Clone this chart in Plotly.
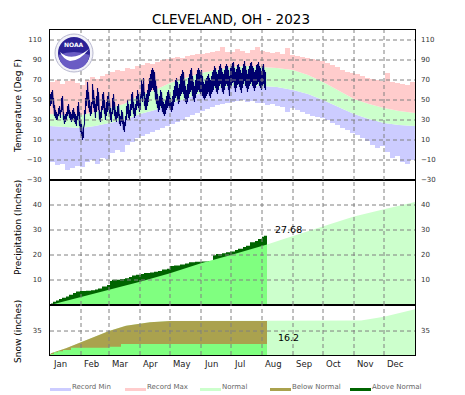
import plotly.graph_objects as go

# ---------------- data ----------------
title_text = "CLEVELAND, OH - 2023"
month_labels = ["Jan", "Feb", "Mar", "Apr", "May", "Jun", "Jul", "Aug", "Sep", "Oct", "Nov", "Dec"]
month_starts = [0, 31, 59, 90, 120, 151, 181, 212, 243, 273, 304, 334]

temp_ticks = [-30, -10, 10, 30, 50, 70, 90, 110]
precip_ticks = [10, 20, 30, 40]
snow_ticks = [35]

# record values in 5-day bins (bin start day)
record_bin_start = [5 * i for i in range(73)]
record_max = [68, 70, 66, 69, 71, 67,
              65, 70, 73, 71, 74, 76,
              78, 80, 79, 82, 81, 84,
              85, 87, 86, 88, 90, 91,
              92, 93, 92, 94, 95, 96,
              96, 97, 98, 99, 103, 98,
              98, 101, 99, 97, 100, 103,
              99, 98, 97, 98, 96, 102,
              95, 94, 93, 92, 91, 90,
              89, 87, 85, 83, 80, 78,
              77, 76, 74, 72, 71, 70,
              69, 77, 68, 67, 66, 65, 68]
record_min = [-12, -15, -14, -20, -18, -16,
              -17, -12, -10, -14, -8, -9,
              -3, 0, -2, 5, 8, 12,
              14, 16, 18, 20, 22, 24,
              26, 28, 30, 33, 35, 37,
              39, 41, 43, 45, 46, 47,
              48, 49, 50, 48, 49, 47,
              47, 45, 46, 44, 43, 38,
              42, 40, 38, 36, 34, 33,
              32, 30, 27, 25, 22, 20,
              17, 15, 12, 9, 5, 2,
              4, -2, -8, -6, -12, -14, -10]

normal_days = [0, 15, 31, 45, 59, 74, 90, 105, 120, 135, 151, 166, 181, 196,
               212, 227, 243, 258, 273, 288, 304, 319, 334, 349, 365]
normal_high = [36, 35, 35, 38, 42, 46, 55, 60, 67, 72, 77, 80, 83, 84,
               83, 82, 80, 75, 68, 60, 51, 46, 42, 39, 37]
normal_low = [24, 23, 22, 24, 27, 30, 36, 40, 46, 51, 57, 61, 64, 65,
              64, 63, 60, 56, 50, 43, 36, 31, 27, 25, 24]

obs_high = [
    # Jan
    56, 58, 60, 52, 45, 40, 38, 36, 42, 44, 40, 52, 54, 38, 34, 36, 38, 44, 46, 40,
    38, 36, 40, 42, 38, 36, 34, 44, 48, 38, 30,
    # Feb
    26, 18, 22, 40, 52, 60, 68, 58, 50, 44, 48, 66, 60, 52, 46, 54, 62, 58, 40, 38,
    44, 56, 58, 50, 42, 48, 54, 58,
    # Mar
    50, 42, 38, 52, 56, 48, 40, 38, 44, 46, 36, 34, 40, 38, 30, 28, 34, 44, 50, 46,
    40, 46, 56, 58, 48, 42, 46, 54, 60, 56, 50,
    # Apr
    56, 70, 66, 72, 58, 52, 56, 60, 66, 72, 76, 80, 82, 80, 78, 70, 64, 56, 50, 54,
    60, 58, 52, 48, 46, 50, 54, 58, 60, 56,
    # May
    52, 48, 54, 60, 64, 70, 72, 68, 62, 66, 74, 76, 80, 78, 70, 64, 60, 66, 72, 76,
    80, 82, 74, 68, 64, 70, 76, 80, 82, 80, 78,
    # Jun
    80, 74, 68, 66, 70, 72, 74, 76, 72, 70, 74, 78, 80, 84, 82, 78, 76, 80, 84, 86,
    82, 78, 76, 80, 84, 86, 84, 80, 74, 82,
    # Jul
    84, 87, 88, 82, 78, 81, 85, 86, 83, 80, 77, 82, 86, 89, 84, 80, 76, 81, 84, 87,
    88, 84, 82, 78, 80, 85, 86, 88, 84, 82, 79,
    # Aug
    84, 86, 80, 78]
obs_low = [
    # Jan
    44, 46, 50, 42, 34, 32, 30, 30, 34, 36, 32, 38, 40, 30, 26, 28, 30, 34, 36, 32,
    30, 28, 30, 32, 28, 26, 24, 30, 34, 24, 18,
    # Feb
    14, 10, 12, 26, 36, 44, 50, 42, 38, 34, 36, 46, 42, 38, 32, 38, 44, 40, 30, 28,
    32, 40, 42, 36, 30, 34, 38, 40,
    # Mar
    36, 30, 28, 36, 40, 34, 30, 28, 32, 34, 26, 24, 28, 26, 20, 18, 24, 30, 36, 32,
    30, 34, 40, 42, 36, 32, 34, 40, 44, 42, 38,
    # Apr
    40, 52, 48, 54, 44, 40, 40, 44, 48, 54, 58, 60, 62, 60, 58, 50, 46, 42, 38, 40,
    44, 42, 38, 36, 34, 36, 40, 42, 44, 42,
    # May
    40, 38, 40, 44, 48, 52, 54, 50, 46, 48, 54, 56, 58, 56, 52, 48, 46, 48, 52, 56,
    58, 60, 54, 50, 48, 52, 56, 58, 60, 58, 56,
    # Jun
    58, 54, 52, 50, 52, 54, 56, 58, 54, 52, 56, 58, 60, 64, 62, 58, 56, 60, 64, 66,
    62, 58, 56, 60, 64, 66, 64, 60, 54, 62,
    # Jul
    64, 67, 68, 62, 58, 62, 65, 66, 63, 60, 57, 62, 66, 69, 64, 62, 58, 61, 64, 66,
    68, 64, 62, 59, 62, 65, 66, 68, 64, 62, 60,
    # Aug
    64, 66, 62, 60]

# cumulative precipitation (inches)
precip_days = [0, 1, 3, 6, 9, 12, 16, 19, 23, 26, 30, 36, 41, 45, 48, 52, 57, 60, 62,
               70, 75, 79, 82, 86, 91, 94, 100, 104, 108, 112, 117, 120, 124, 130, 135,
               139, 145, 152, 158, 163, 166, 172, 176, 180, 185, 188, 193, 196, 200,
               205, 208, 212, 214, 217]
precip_cum = [0, 0.6, 1.3, 1.8, 2.4, 2.9, 3.4, 4.1, 4.8, 5.4, 5.6, 5.7, 5.9, 6.2, 6.6,
              7.4, 8.0, 9.6, 10.1, 10.4, 10.7, 11.2, 11.8, 12.1, 12.4, 12.8, 13.0, 13.3,
              13.6, 14.2, 14.5, 15.6, 15.8, 16.2, 16.6, 17.1, 17.3, 17.4, 17.6, 19.9,
              20.4, 20.7, 21.1, 21.4, 22.0, 22.5, 23.2, 23.7, 25.1, 25.6, 26.4, 27.3,
              27.68, 27.68]
normal_precip_days = [0, 31, 59, 90, 120, 151, 181, 212, 217, 243, 273, 304, 334, 365]
normal_precip = [0, 3.2, 6.0, 9.3, 12.7, 16.7, 20.0, 23.6, 24.2, 27.6, 31.5, 35.4, 38.3, 41.2]

# cumulative snowfall (inches)
snow_days = [0, 1, 4, 8, 13, 21, 59, 71, 217]
snow_cum = [0, 1.5, 3.9, 5.6, 7.3, 10.7, 12.2, 16.2, 16.2]
normal_snow_days = [0, 1, 16, 31, 50, 59, 76, 90, 100, 120, 217, 304, 311, 334, 365]
normal_snow = [0, 2.4, 9.7, 18.5, 29, 35, 42.8, 46, 47.7, 49.6, 49.6, 49.6, 50.2, 56, 66.7]

data_end_day = 217

legend_labels = ["Record Min", "Record Max", "Normal", "Below Normal", "Above Normal"]
legend_colors = ["#ccccff", "#ffcccc", "#ccffcc", "#aaa24e", "#006400"]

# ---------------- styles ----------------
C_MIN, C_MAX, C_NORM = "#ccccff", "#ffcccc", "#ccffcc"
C_OBS = "#00006e"
C_BRIGHT = "#80ff80"
C_DARK = "#006400"
C_OLIVE = "#aaa24e"
FONT = "DejaVu Sans"

# page body has an 8px margin: the figure is placed at (8, 8) in the window
OFF = 8
WIN_W, WIN_H = 465, 395
W, H = WIN_W - OFF, WIN_H - OFF
PL, PT, PR, PB = 50, 30, 415, 355          # plot area in window pixels
ML, MT = PL - OFF, PT - OFF
MR, MB = WIN_W - PR, WIN_H - PB
PW, PH = PR - PL, PB - PT


def px(xp):
    return (xp - PL) / PW


def py(yp):
    return (PB - yp) / PH


temp_dom = [py(180), 1.0]
prec_dom = [py(305), py(180)]
snow_dom = [0.0, py(305)]

fig = go.Figure()
nolegend = dict(showlegend=False, hoverinfo="skip")

# ---- temperature panel ----
rx = record_bin_start + [365]
fig.add_trace(go.Scatter(x=rx, y=record_min + [record_min[-1]], mode="lines",
                         line=dict(width=0, shape="hv"), xaxis="x", yaxis="y", **nolegend))
fig.add_trace(go.Scatter(x=normal_days, y=normal_low, mode="lines", line=dict(width=0),
                         fill="tonexty", fillcolor=C_MIN, xaxis="x", yaxis="y", **nolegend))
fig.add_trace(go.Scatter(x=normal_days, y=normal_high, mode="lines", line=dict(width=0),
                         fill="tonexty", fillcolor=C_NORM, xaxis="x", yaxis="y", **nolegend))
fig.add_trace(go.Scatter(x=rx, y=record_max + [record_max[-1]], mode="lines",
                         line=dict(width=0, shape="hv"), fill="tonexty", fillcolor=C_MAX,
                         xaxis="x", yaxis="y", **nolegend))

# daily low->high strokes, joined high -> next day's low (sawtooth)
zx, zy = [], []
for i, (hi, lo) in enumerate(zip(obs_high, obs_low)):
    d = i + 0.5
    zx += [d, d]
    zy += [lo, hi]
fig.add_trace(go.Scatter(x=zx, y=zy, mode="lines", line=dict(color=C_OBS, width=1.1),
                         xaxis="x", yaxis="y", **nolegend))

# ---- precipitation panel ----
k = normal_precip_days.index(data_end_day)
fig.add_trace(go.Scatter(x=normal_precip_days, y=normal_precip, mode="lines", line=dict(width=0),
                         fill="tozeroy", fillcolor=C_NORM, xaxis="x2", yaxis="y2", **nolegend))
fig.add_trace(go.Scatter(x=precip_days, y=precip_cum, mode="lines", line=dict(width=0, shape="hv"),
                         fill="tozeroy", fillcolor=C_DARK, xaxis="x2", yaxis="y2", **nolegend))
fig.add_trace(go.Scatter(x=normal_precip_days[:k + 1], y=normal_precip[:k + 1], mode="lines",
                         line=dict(width=0), fill="tozeroy", fillcolor=C_BRIGHT,
                         xaxis="x2", yaxis="y2", **nolegend))

# ---- snow panel ----
ks = normal_snow_days.index(data_end_day)
fig.add_trace(go.Scatter(x=normal_snow_days, y=normal_snow, mode="lines", line=dict(width=0),
                         fill="tozeroy", fillcolor=C_NORM, xaxis="x3", yaxis="y3", **nolegend))
fig.add_trace(go.Scatter(x=normal_snow_days[:ks + 1], y=normal_snow[:ks + 1], mode="lines",
                         line=dict(width=0), fill="tozeroy", fillcolor=C_OLIVE,
                         xaxis="x3", yaxis="y3", **nolegend))
fig.add_trace(go.Scatter(x=snow_days, y=snow_cum, mode="lines", line=dict(width=0, shape="hv"),
                         fill="tozeroy", fillcolor=C_BRIGHT, xaxis="x3", yaxis="y3", **nolegend))

# right side axes (need traces)
for ya, xa in [("y4", "x"), ("y5", "x2"), ("y6", "x3")]:
    fig.add_trace(go.Scatter(x=[], y=[], xaxis=xa, yaxis=ya, **nolegend))

# ---------------- axes ----------------
tickfont = dict(family=FONT, size=7, color="#333333")
xcommon = dict(range=[0, 365], showgrid=False, zeroline=False, showticklabels=False,
               showline=True, mirror=True, linecolor="black", linewidth=1, fixedrange=True)
ycommon = dict(showgrid=False, zeroline=False, showline=True, mirror=True, linecolor="black",
               linewidth=1, tickfont=tickfont, ticks="", ticklabelstandoff=6)
rcommon = dict(showgrid=False, zeroline=False, showline=False, side="right",
               tickfont=tickfont, ticks="", ticklabelstandoff=5)

fig.update_layout(
    width=W, height=H, margin=dict(l=ML, r=MR, t=MT, b=MB, autoexpand=False),
    paper_bgcolor="white", plot_bgcolor="white",
    xaxis=dict(domain=[0, 1], anchor="y", **xcommon),
    xaxis2=dict(domain=[0, 1], anchor="y2", **xcommon),
    xaxis3=dict(domain=[0, 1], anchor="y3", **xcommon),
    yaxis=dict(domain=temp_dom, anchor="x", range=[-30, 120], tickvals=temp_ticks, **ycommon),
    yaxis2=dict(domain=prec_dom, anchor="x2", range=[0, 50], tickvals=precip_ticks, **ycommon),
    yaxis3=dict(domain=snow_dom, anchor="x3", range=[0, 73], tickvals=snow_ticks, **ycommon),
    yaxis4=dict(overlaying="y", anchor="x", range=[-30, 120], tickvals=temp_ticks, **rcommon),
    yaxis5=dict(overlaying="y2", anchor="x2", range=[0, 50], tickvals=precip_ticks, **rcommon),
    yaxis6=dict(overlaying="y3", anchor="x3", range=[0, 73], tickvals=snow_ticks, **rcommon),
    showlegend=False,
)

# ---------------- grid lines (drawn above data) ----------------
shapes = []
grid = dict(color="#808080", width=1, dash="4px,3px")
for v in temp_ticks[1:]:
    shapes.append(dict(type="line", xref="x domain", yref="y", x0=0, x1=1, y0=v, y1=v,
                       line=grid, layer="above"))
for v in precip_ticks:
    shapes.append(dict(type="line", xref="x2 domain", yref="y2", x0=0, x1=1, y0=v, y1=v,
                       line=grid, layer="above"))
for v in snow_ticks:
    shapes.append(dict(type="line", xref="x3 domain", yref="y3", x0=0, x1=1, y0=v, y1=v,
                       line=grid, layer="above"))
for ms in month_starts[1:]:
    for xr, yr in [("x", "y domain"), ("x2", "y2 domain"), ("x3", "y3 domain")]:
        shapes.append(dict(type="line", xref=xr, yref=yr, x0=ms, x1=ms, y0=0, y1=1,
                           line=grid, layer="above"))

# ---------------- legend (custom) ----------------
leg_x = [50, 125, 200, 270, 350]
annotations = []
for lx, lab, col in zip(leg_x, legend_labels, legend_colors):
    shapes.append(dict(type="rect", xref="paper", yref="paper",
                       x0=px(lx), x1=px(lx + 21), y0=py(391), y1=py(388),
                       fillcolor=col, line=dict(width=0)))
    annotations.append(dict(text=lab, xref="paper", yref="paper", x=px(lx + 20), y=py(387),
                            xanchor="left", yanchor="middle", showarrow=False,
                            font=dict(family=FONT, size=7, color="#666666")))

# ---------------- NOAA logo ----------------
cx, cy = 74, 53


def circ(r, fill, line):
    return dict(type="circle", xref="paper", yref="paper", layer="above",
                x0=px(cx - r), x1=px(cx + r), y0=py(cy + r), y1=py(cy - r),
                fillcolor=fill, line=line)


def path(pts):
    s = ""
    for cmd, coords in pts:
        s += cmd + " ".join(f"{px(a):.4f},{py(b):.4f}" for a, b in coords) + " "
    return s + "Z"


shapes.append(circ(19, "#f2f2f8", dict(color="#b8b8d0", width=1)))
shapes.append(circ(16, "#2c2296", dict(width=0)))
shapes.append(dict(type="path", xref="paper", yref="paper", layer="above",
                   path=path([("M", [(58.5, 55)]),
                              ("Q", [(74, 49), (89.5, 55)]),
                              ("C", [(88, 66), (80, 69.5), (74, 69.5)]),
                              ("C", [(68, 69.5), (60, 66), (58.5, 55)])]),
                   fillcolor="#6a5cc4", line=dict(width=0)))
shapes.append(dict(type="path", xref="paper", yref="paper", layer="above",
                   path=path([("M", [(60, 52)]),
                              ("Q", [(72, 63), (89, 49)]),
                              ("Q", [(80, 61), (70, 61)]),
                              ("Q", [(63, 59), (60, 52)])]),
                   fillcolor="white", line=dict(width=0)))
annotations.append(dict(text="<b>NOAA</b>", xref="paper", yref="paper", x=px(cx), y=py(44.5),
                        xanchor="center", yanchor="middle", showarrow=False,
                        font=dict(family=FONT, size=6, color="white")))

# ---------------- text ----------------
annotations.append(dict(text=title_text, xref="paper", yref="paper", x=px(231), y=py(19),
                        xanchor="center", yanchor="middle", showarrow=False,
                        font=dict(family=FONT, size=13.5, color="black")))
annotations.append(dict(text="Temperature (Deg F)", xref="paper", yref="paper", x=px(18), y=py(106),
                        textangle=-90, showarrow=False, xanchor="center", yanchor="middle",
                        font=dict(family=FONT, size=9, color="black")))
annotations.append(dict(text="Precipitation (Inches)", xref="paper", yref="paper", x=px(18), y=py(228),
                        textangle=-90, showarrow=False, xanchor="center", yanchor="middle",
                        font=dict(family=FONT, size=9, color="black")))
annotations.append(dict(text="Snow (inches)", xref="paper", yref="paper", x=px(18), y=py(332),
                        textangle=-90, showarrow=False, xanchor="center", yanchor="middle",
                        font=dict(family=FONT, size=9, color="black")))
for ms, lab in zip(month_starts, month_labels):
    annotations.append(dict(text=lab, xref="x3", yref="paper", x=ms + 0.5, y=py(364),
                            xanchor="left", yanchor="middle", showarrow=False,
                            font=dict(family=FONT, size=8.5, color="#222222")))
annotations.append(dict(text=f"{precip_cum[-1]:.2f}", xref="x2", yref="y2", x=223, y=30.3,
                        xanchor="left", yanchor="middle", showarrow=False,
                        font=dict(family=FONT, size=9.5, color="black")))
annotations.append(dict(text=f"{snow_cum[-1]:.1f}", xref="x3", yref="y3", x=226, y=26,
                        xanchor="left", yanchor="middle", showarrow=False,
                        font=dict(family=FONT, size=9.5, color="black")))

fig.update_layout(shapes=shapes, annotations=annotations)
fig.write_html("out.html")
